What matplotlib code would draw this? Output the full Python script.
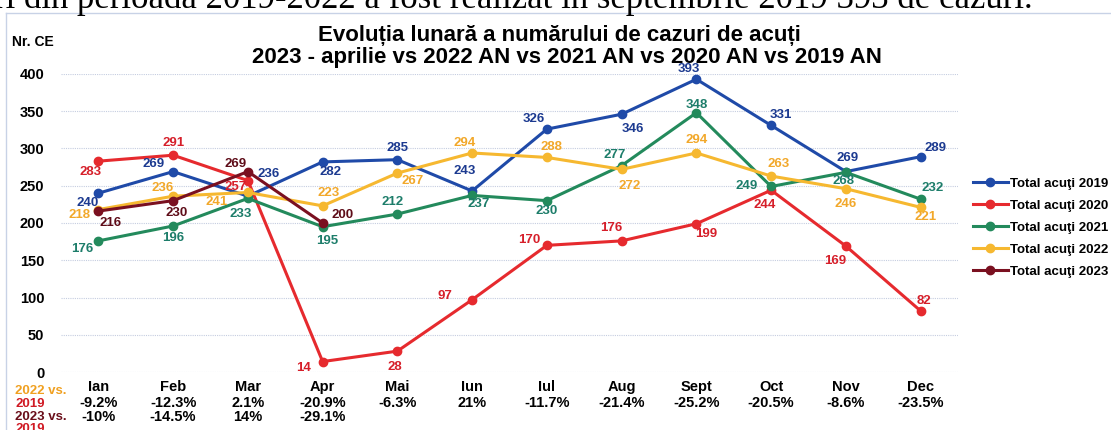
import numpy as np
import matplotlib
matplotlib.use("Agg")
import matplotlib.pyplot as plt
from matplotlib.transforms import blended_transform_factory
from matplotlib.lines import Line2D

plt.rcParams['font.family'] = ['Liberation Sans', 'DejaVu Sans']

months = ["Ian", "Feb", "Mar", "Apr", "Mai", "Iun", "Iul", "Aug", "Sept",
          "Oct", "Nov", "Dec"]

acuti_2019 = [240, 269, 236, 282, 285, 243, 326, 346, 393, 331, 269, 289]
acuti_2020 = [283, 291, 257, 14, 28, 97, 170, 176, 199, 244, 169, 82]
acuti_2021 = [176, 196, 233, 195, 212, 237, 230, 277, 348, 249, 268, 232]
acuti_2022 = [218, 236, 241, 223, 267, 294, 288, 272, 294, 263, 246, 221]
acuti_2023 = [216, 230, 269, 200]

pct_2022_vs_2019 = ["-9.2%", "-12.3%", "2.1%", "-20.9%", "-6.3%", "21%",
                    "-11.7%", "-21.4%", "-25.2%", "-20.5%", "-8.6%", "-23.5%"]
pct_2023_vs_2019 = ["-10%", "-14.5%", "14%", "-29.1%"]

# label offsets in pixels (dx, dy), dy up
off_2019 = [(-11, -10), (-20, 8), (21, 22), (8, -10), (0, 12), (-7, 20),
            (-13, 10), (11, -15), (-8, 10), (10, 10), (2, 14), (15, 9)]
off_2020 = [(-8, -11), (0, 12), (-12, -6), (-19, -6), (-3, -16), (-27, 4),
            (-18, 5), (-10, 13), (10, -10), (-6, -15), (-11, -15), (3, 10)]
off_2021 = [(-16, -8), (0, -12), (-7, -16), (5, -14), (-5, 12), (7, -9),
            (0, -10), (-7, 11), (0, 8), (-24, 0), (-2, -9), (12, 11)]
off_2022 = [(-19, -5), (-10, 8), (-31, -10), (6, 13), (15, -8), (-8, 10),
            (5, 10), (8, -17), (0, 13), (8, 12), (0, -15), (5, -10)]
off_2023 = [(12, -12), (3, -12), (-12, 8), (20, 8)]

series = [
    ("Total acuţi 2019", acuti_2019, "#1f4aa8", "#1c3a90", off_2019),
    ("Total acuţi 2020", acuti_2020, "#e62a2e", "#d61f2a", off_2020),
    ("Total acuţi 2021", acuti_2021, "#238a5c", "#1d7d6a", off_2021),
    ("Total acuţi 2022", acuti_2022, "#f6b830", "#f2a82a", off_2022),
    ("Total acuţi 2023", acuti_2023, "#7a1020", "#5e0c18", off_2023),
]

fig = plt.figure(figsize=(11.11, 4.30), dpi=100)
W, H = 1111.0, 430.0
ax = fig.add_axes([61 / W, 1 - 372 / H, (958 - 61) / W, (372 - 74) / H])

x = np.arange(len(months))
for name, vals, col, lcol, offs in series:
    xs = x[:len(vals)]
    ax.plot(xs, vals, color=col, lw=2.2, marker="o", ms=6, label=name,
            zorder=3)
    for xi, v, (dx, dy) in zip(xs, vals, offs):
        ax.annotate(str(v), (xi, v), xytext=(dx, dy),
                    textcoords="offset pixels", ha="center", va="center",
                    fontsize=9.5, fontweight="bold", color=lcol, zorder=4)

ax.set_xlim(-0.5, 11.5)
ax.set_ylim(0, 400)
ax.set_yticks(range(0, 401, 50))
ax.set_xticks([])
ax.tick_params(axis="y", length=0, pad=12, labelsize=10.5)
for lab in ax.get_yticklabels():
    lab.set_fontweight("bold")
ax.grid(axis="y", color="#c5cde0", lw=0.8, ls=(0, (1, 1)))
ax.set_axisbelow(True)
for s in ax.spines.values():
    s.set_visible(False)

# bottom table
tr = blended_transform_factory(ax.transData, fig.transFigure)
for i, m in enumerate(months):
    ax.text(i, 1 - 387 / H, m, transform=tr, ha="center", va="center",
            fontsize=10.5, fontweight="bold", clip_on=False)
    ax.text(i, 1 - 403 / H, pct_2022_vs_2019[i], transform=tr, ha="center",
            va="center", fontsize=10.5, fontweight="bold", clip_on=False)
for i, p in enumerate(pct_2023_vs_2019):
    ax.text(i, 1 - 417 / H, p, transform=tr, ha="center", va="center",
            fontsize=10.5, fontweight="bold", clip_on=False)

row_labels = [("2022 vs.", "#f0a020", 391), ("2019", "#d01a24", 404),
              ("2023 vs.", "#6a0e1a", 417), ("2019", "#d01a24", 429)]
for t, c, yy in row_labels:
    fig.text(15 / W, 1 - yy / H, t, ha="left", va="center", fontsize=9.5,
             fontweight="bold", color=c)

# titles
fig.text(559 / W, 1 - 35 / H, "Evoluția lunară a numărului de cazuri de acuți",
         ha="center", va="center", fontsize=16, fontweight="bold")
fig.text(567 / W, 1 - 58 / H,
         "2023 - aprilie vs 2022 AN vs 2021 AN vs 2020 AN vs 2019 AN",
         ha="center", va="center", fontsize=16, fontweight="bold")
fig.text(12 / W, 1 - 42 / H, "Nr. CE", ha="left", va="center", fontsize=10,
         fontweight="bold")

# cut-off document text above the chart
fig.text(-6 / W, 1 - 8 / H,
         "ri din perioada 2019-2022 a fost realizat în septembrie 2019 393 de cazuri.",
         ha="left", va="baseline", fontsize=25, family="Liberation Serif")

# chart frame
fig.add_artist(Line2D([6 / W, 1], [1 - 13 / H, 1 - 13 / H], color="#c8d2e6",
                      lw=1, transform=fig.transFigure))
fig.add_artist(Line2D([6 / W, 6 / W], [0, 1 - 13 / H], color="#c8d2e6",
                      lw=1, transform=fig.transFigure))

leg = ax.legend(loc="upper left", bbox_to_anchor=(968 / W, 1 - 172 / H),
                bbox_transform=fig.transFigure, frameon=False, fontsize=9.5,
                handlelength=2.6, handletextpad=0.2, labelspacing=0.75,
                borderaxespad=0)
for t in leg.get_texts():
    t.set_fontweight("bold")

fig.savefig("out.png", dpi=100)
